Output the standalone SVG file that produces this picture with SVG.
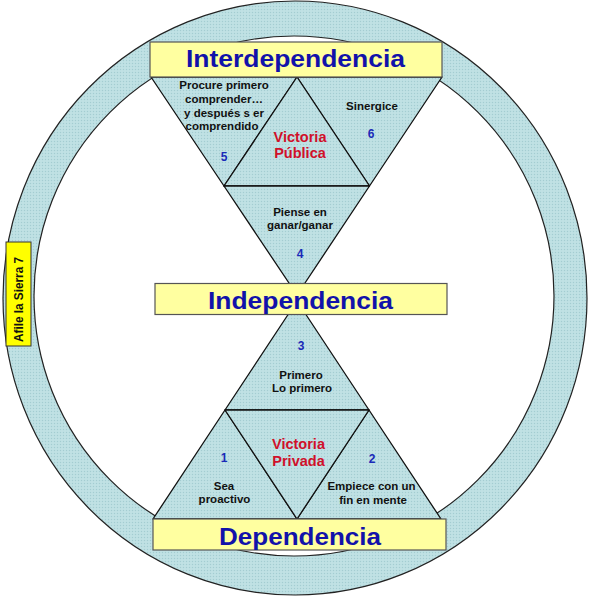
<svg xmlns="http://www.w3.org/2000/svg" width="590" height="598" viewBox="0 0 590 598">
<defs>
<pattern id="dots" width="3" height="3" patternUnits="userSpaceOnUse">
<rect width="3" height="3" fill="#bcdfe2"/>
<rect x="0" y="0" width="1" height="1" fill="#a4ccd1"/>
<rect x="1.5" y="1.5" width="1" height="1" fill="#cde8ea"/>
</pattern>
</defs>
<style>
.tri{fill:url(#dots);stroke:#111;stroke-width:1.3;stroke-linejoin:round}
.box{fill:#ffffa0;stroke:#555;stroke-width:1.2}
.title{font-family:"Liberation Sans",Arial,sans-serif;font-weight:bold;fill:#1212aa;text-anchor:middle}
.t{font-family:"Liberation Sans",Arial,sans-serif;font-weight:bold;font-size:11.5px;fill:#111;text-anchor:middle}
.n{font-family:"Liberation Sans",Arial,sans-serif;font-weight:bold;font-size:12px;fill:#1a2ab8;text-anchor:middle}
.v{font-family:"Liberation Sans",Arial,sans-serif;font-weight:bold;font-size:14.5px;fill:#d0102a;text-anchor:middle}
</style>
<rect width="590" height="598" fill="#ffffff"/>
<g id="ring">
<path d="M3,298 A292,297 0 1,0 587,298 A292,297 0 1,0 3,298 Z M34,296 A260,260 0 1,1 554,296 A260,260 0 1,1 34,296 Z" fill="url(#dots)" fill-rule="evenodd" stroke="#222" stroke-width="1.2"/>
</g>
<g id="tri-5">
<polygon class="tri" points="151,77 297,77 224,186"/>
<text class="t" x="224" y="89">Procure primero</text>
<text class="t" x="224" y="103">comprender…</text>
<text class="t" x="224" y="116.5">y después s er</text>
<text class="t" x="222" y="130">comprendido</text>
<text class="n" x="224" y="161">5</text>
</g>
<g id="tri-6">
<polygon class="tri" points="297,77 442,77 369.5,186"/>
<text class="t" x="372" y="110">Sinergice</text>
<text class="n" x="371" y="138">6</text>
</g>
<g id="tri-publica">
<polygon class="tri" points="297,77 369.5,186 224,186"/>
<text class="v" x="300" y="142">Victoria</text>
<text class="v" x="300" y="158">Pública</text>
</g>
<g id="tri-4">
<polygon class="tri" points="224,186 369.5,186 297,295"/>
<text class="t" x="300" y="216">Piense en</text>
<text class="t" x="300" y="229">ganar/ganar</text>
<text class="n" x="300" y="258">4</text>
</g>
<g id="tri-3">
<polygon class="tri" points="297,301 369,410 225,410"/>
<text class="n" x="301" y="350">3</text>
<text class="t" x="301" y="379">Primero</text>
<text class="t" x="302" y="392">Lo primero</text>
</g>
<g id="tri-1">
<polygon class="tri" points="225,410 297,519 153,519"/>
<text class="n" x="224" y="462">1</text>
<text class="t" x="224" y="490">Sea</text>
<text class="t" x="224.5" y="503">proactivo</text>
</g>
<g id="tri-2">
<polygon class="tri" points="369,410 441,519 297,519"/>
<text class="n" x="372" y="463">2</text>
<text class="t" x="371.5" y="490">Empiece con un</text>
<text class="t" x="373" y="504">fin en mente</text>
</g>
<g id="tri-privada">
<polygon class="tri" points="225,410 369,410 297,519"/>
<text class="v" x="298.5" y="449">Victoria</text>
<text class="v" x="298.5" y="466">Privada</text>
</g>
<g id="box-interdependencia">
<rect class="box" x="150" y="42" width="292" height="35"/>
<text class="title" x="295.5" y="67" font-size="24" textLength="219" lengthAdjust="spacingAndGlyphs">Interdependencia</text>
</g>
<g id="box-independencia">
<rect class="box" x="155" y="283.5" width="292" height="31"/>
<text class="title" x="300.5" y="308.5" font-size="24" textLength="185" lengthAdjust="spacingAndGlyphs">Independencia</text>
</g>
<g id="box-dependencia">
<rect class="box" x="153" y="519" width="293" height="31"/>
<text class="title" x="300" y="544.5" font-size="24" textLength="162" lengthAdjust="spacingAndGlyphs">Dependencia</text>
</g>
<g id="box-afile">
<rect x="6" y="242" width="25" height="104" fill="#ffff00" stroke="#333" stroke-width="1"/>
<text x="0" y="0" transform="translate(22.5,299.5) rotate(-90)" font-family="'Liberation Sans',Arial,sans-serif" font-weight="bold" font-size="12" fill="#111" text-anchor="middle" textLength="85" lengthAdjust="spacingAndGlyphs">Afile la Sierra 7</text>
</g>
</svg>
